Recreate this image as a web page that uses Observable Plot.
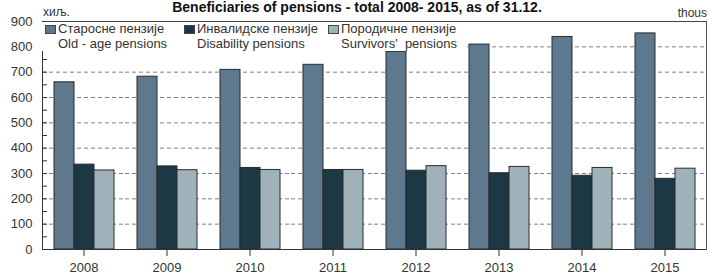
<!DOCTYPE html>
<html><head><meta charset="utf-8">
<script src="https://cdn.jsdelivr.net/npm/d3@7"></script>
<script src="https://cdn.jsdelivr.net/npm/@observablehq/plot@0.6"></script>
<style>
body{margin:0;background:#fff;}
#wrap{position:relative;width:709px;height:276px;overflow:hidden;font-family:"Liberation Sans",Arial,sans-serif;background:#fff;}
#wrap svg{position:absolute;left:0;top:0;}
</style></head><body><div id="wrap"></div>
<script>
const title = "Beneficiaries of pensions - total 2008- 2015, as of 31.12.";
const unitSr = "хиљ.";
const unitEn = "thous";
const years = ["2008","2009","2010","2011","2012","2013","2014","2015"];
const seriesSr = ["Старосне пензије","Инвалидске пензије","Породичне пензије"];
const seriesEn = ["Old - age pensions","Disability pensions","Survivors'  pensions"];
const oldAge = [660,682,709,729,780,809,839,853];
const disability = [335,328,322,314,311,301,291,279];
const survivors = [312,313,314,314,329,326,322,319];
const colors = ["#5e798e","#1b3844","#a0b2b9"];
const yTicks = [0,100,200,300,400,500,600,700,800,900];
const gridTicks = [100,200,300,400,500,600,700,800];
const minorTicks = [0,50,100,150,200,250,300,350,400,450,500,550,600,650,700,750,800,850,900];

const values = [oldAge, disability, survivors];
const data = [];
years.forEach((yr, i) => {
  seriesEn.forEach((s, j) => data.push({year: yr, series: s, value: values[j][i]}));
});

const chart = Plot.plot({
  width: 709, height: 276,
  marginLeft: 40, marginRight: 1, marginTop: 21, marginBottom: 27,
  style: {fontFamily: '"Liberation Sans", Arial, sans-serif', fontSize: "13px", color: "#333", background: "transparent"},
  fx: {domain: years, padding: 0, label: null},
  x: {domain: seriesEn, paddingInner: 0, paddingOuter: 0.49, axis: null},
  y: {domain: [0, 900], label: null},
  color: {domain: seriesEn, range: colors},
  marks: [
    Plot.ruleY(gridTicks, {stroke: "#808080", strokeDasharray: "4,3"}),
    Plot.barY(data, {fx: "year", x: "series", y: "value", fill: "series", stroke: "#2b2b2b", strokeWidth: 1}),
    Plot.frame({anchor: "top", stroke: "#444"}),
    Plot.frame({anchor: "bottom", stroke: "#333"}),
    Plot.frame({anchor: "left", facetAnchor: "left", stroke: "#333"}),
    Plot.frame({anchor: "right", facetAnchor: "right", stroke: "#555"}),
    Plot.axisY({ticks: yTicks, tickSize: 0, tickPadding: 10, label: null}),
    Plot.axisY({ticks: minorTicks, tickSize: -5, tickFormat: () => "", label: null}),
    Plot.axisFx({anchor: "bottom", tickSize: 7, tickPadding: 6, label: null})
  ]
});
document.getElementById("wrap").appendChild(chart);

const ov = d3.select("#wrap").append("svg").attr("width", 709).attr("height", 276)
  .style("font-family", '"Liberation Sans", Arial, sans-serif');
ov.append("text").attr("x", 357).attr("y", 12).attr("text-anchor", "middle")
  .attr("font-weight", "bold").attr("font-size", 14).attr("fill", "#111").text(title);
ov.append("text").attr("x", 43).attr("y", 16).attr("font-size", 12).attr("fill", "#333").text(unitSr);
ov.append("text").attr("x", 707).attr("y", 17).attr("text-anchor", "end").attr("font-size", 12).attr("fill", "#333").text(unitEn);
ov.append("rect").attr("x", 41).attr("y", 22).attr("width", 426).attr("height", 29).attr("fill", "#fff");
const swX = [45, 184, 328];
seriesEn.forEach((s, j) => {
  ov.append("rect").attr("x", swX[j] + 0.5).attr("y", 25.5).attr("width", 10).attr("height", 8)
    .attr("fill", colors[j]).attr("stroke", "#444").attr("stroke-width", 1);
  ov.append("text").attr("x", swX[j] + 13).attr("y", 33).attr("font-size", 13).attr("fill", "#333").text(seriesSr[j]);
  ov.append("text").attr("x", swX[j] + 13).attr("y", 47.5).attr("font-size", 13).attr("fill", "#333")
    .attr("xml:space", "preserve").style("white-space", "pre").text(s);
});
</script></body></html>
